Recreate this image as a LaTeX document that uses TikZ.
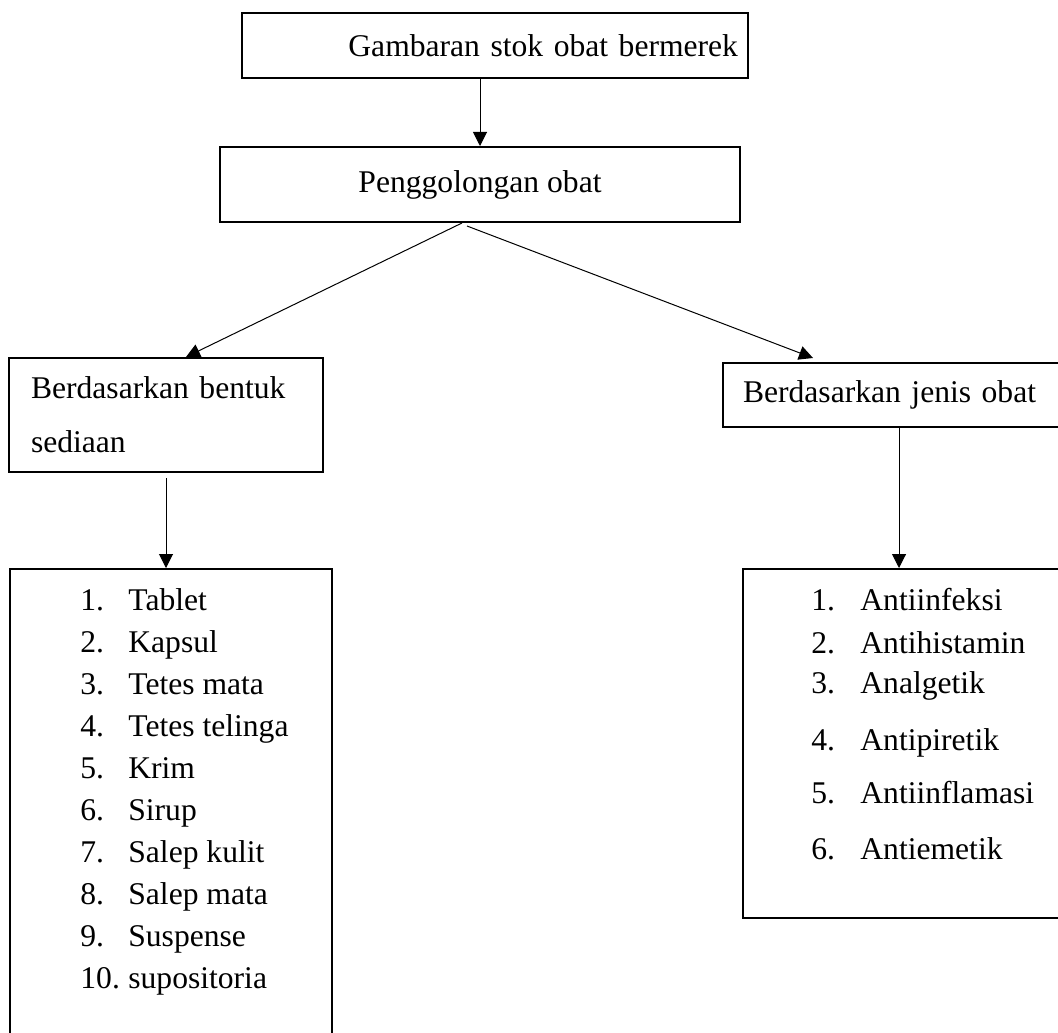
\documentclass[tikz,border=0pt]{standalone}
\usepackage{fontspec}
\setmainfont{Liberation Serif}
\usetikzlibrary{arrows.meta}

\begin{document}
\begin{tikzpicture}[x=0.5pt, y=-0.5pt, >={Triangle[length=7pt,width=7pt]},
	box/.style={draw, line width=1pt, inner sep=0pt, font=\fontsize{15.8}{20}\selectfont},
	item/.style={inner sep=0pt, anchor=base west, font=\fontsize{15.8}{20}\selectfont},
	link/.style={->, line width=0.5pt}]
	\clip (0,0) rectangle (1058,1032);
	
	% Boxes {gambaran, cls, form, jenis}
	\node [box, minimum width=253pt, minimum height=32.5pt, text width=243pt, align=right] (gambaran) at (495,45.5) {Gambaran stok obat bermerek};
	\node [box, minimum width=260pt, minimum height=37.5pt] (cls) at (480,184.5) {Penggolongan obat};
	\node [box, minimum width=157pt, minimum height=57pt, text width=135pt, align=left, font=\fontsize{15.8}{27}\selectfont] (form) at (166,415) {Berdasarkan bentuk\\sediaan};
	\node [box, minimum width=176pt, minimum height=32pt, text width=156pt, align=left] (jenis) at (899,395) {Berdasarkan jenis obat};
	
	% Lists
	\node [box, minimum width=161pt, minimum height=240.5pt] (formlist) at (171,809.5) {};
	\node [box, minimum width=166pt, minimum height=174.5pt] (jenislist) at (909,743.5) {};
	\foreach \lbl [count=\n] in {Tablet, Kapsul, Tetes mata, Tetes telinga, Krim, Sirup, Salep kulit, Salep mata, Suspense, supositoria}
		\node [item] (form\n) at (80,{568+42*\n}) {\makebox[24pt][l]{\n.}\lbl};
	\foreach \lbl/\yy [count=\n] in {Antiinfeksi/610, Antihistamin/653, Analgetik/693, Antipiretik/750, Antiinflamasi/803, Antiemetik/859}
		\node [item] (jenis\n) at (811,\yy) {\makebox[24.5pt][l]{\n.}\lbl};
	
	% Paths
	\draw [link] (cls.north |- gambaran.south) -- (cls.north);
	\draw [link] ([xshift=-9pt]cls.south) -- ([xshift=10pt]form.north);
	\draw [link] ([xshift=-6.5pt,yshift=-1.5pt]cls.south) -- ([xshift=-43pt,yshift=2pt]jenis.north);
	\draw [link] ([yshift=-2.5pt]form.south) -- (form.south |- formlist.north);
	\draw [link] (jenis.south) -- (jenis.south |- jenislist.north);
	
\end{tikzpicture}
\end{document}
